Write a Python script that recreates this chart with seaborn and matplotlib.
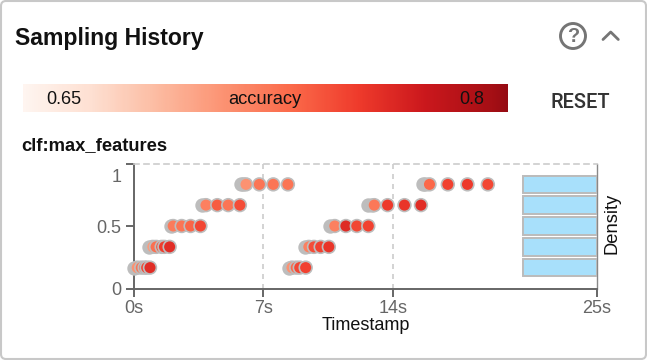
import numpy as np
import pandas as pd
import matplotlib
matplotlib.use("Agg")
import matplotlib.pyplot as plt
from matplotlib.colors import Normalize
from matplotlib.patches import FancyBboxPatch, Circle
from matplotlib.lines import Line2D
from matplotlib.transforms import Affine2D
import seaborn as sns

# Data
grey_time = [0.00, 0.84, 1.99, 3.67, 5.79, 5.90,
             8.40, 9.26, 10.57, 12.66, 12.85, 15.63, 15.72]
grey_feat = [0.167, 0.333, 0.5, 0.667, 0.833, 0.833,
             0.167, 0.333, 0.5, 0.667, 0.667, 0.833, 0.833]
sample_time = [0.19, 0.41, 0.59, 0.70, 0.88,
               1.03, 1.21, 1.51, 1.66, 1.94,
               2.13, 2.59, 3.07, 3.60,
               3.90, 4.51, 5.10, 5.73,
               6.06, 6.78, 7.53, 8.32,
               8.54, 8.77, 8.96, 9.28,
               9.45, 9.73, 10.09, 10.53,
               10.85, 11.45, 12.04, 12.66,
               12.98, 13.70, 14.61, 15.50,
               15.96, 16.95, 18.01, 19.11]
sample_feat = [0.167] * 5 + [0.333] * 5 + [0.5] * 4 + [0.667] * 4 + [0.833] * 4 + \
              [0.167] * 4 + [0.333] * 4 + [0.5] * 4 + [0.667] * 4 + [0.833] * 4
sample_acc = [0.705, 0.722, 0.735, 0.745, 0.760,
              0.700, 0.725, 0.738, 0.750, 0.760,
              0.718, 0.722, 0.730, 0.745,
              0.715, 0.735, 0.722, 0.742,
              0.705, 0.722, 0.722, 0.722,
              0.705, 0.728, 0.745, 0.748,
              0.715, 0.742, 0.748, 0.755,
              0.715, 0.762, 0.745, 0.748,
              0.720, 0.752, 0.755, 0.760,
              0.728, 0.748, 0.752, 0.745]
density_rows = [0.167, 0.333, 0.5, 0.667, 0.833]
density_vals = [1.0, 1.0, 1.0, 1.0, 1.0]
y_ticks = [0, 0.5, 1]
y_labels = ["0", "0.5", "1"]
x_ticks = [0, 7, 14, 25]
x_labels = ["0s", "7s", "14s", "25s"]
acc_min, acc_max = 0.635, 0.821

W, H = 647, 360
PT = 0.72
sns.set_theme(style="white")
plt.rcParams["font.family"] = ["Liberation Sans", "DejaVu Sans"]
fig = plt.figure(figsize=(W / 100, H / 100), dpi=100, facecolor="white")

# Pixel-space overlay for card furniture
bg = fig.add_axes([0, 0, 1, 1], zorder=0)
bg.set_xlim(0, W)
bg.set_ylim(H, 0)
bg.axis("off")
bg.add_patch(FancyBboxPatch((1, 1), W - 2, H - 2, boxstyle="round,pad=0,rounding_size=5",
                            fc="white", ec="#c8c8c8", lw=1.5))
bg.text(15, 38.5, "Sampling History", fontsize=23 * PT, fontweight="bold", color="#111111", va="center", ha="left")
bg.add_patch(Circle((573, 36), 12.5, fc="none", ec="#757575", lw=2.1))
bg.text(573, 36.5, "?", fontsize=20 * PT, fontweight="bold", color="#757575", ha="center", va="center")
bg.add_line(Line2D([603, 610.7, 618.3], [39.5, 32, 39.5], color="#757575", lw=2.0))

norm = Normalize(acc_min, acc_max)
grad = np.linspace(acc_min, 0.803, 256)[None, :]
bg.imshow(grad, cmap="Reds", norm=norm, extent=(23, 507.5, 112.5, 84.5), aspect="auto", zorder=1)
bg.set_xlim(0, W)
bg.set_ylim(H, 0)
bg.text(64, 99.5, "0.65", fontsize=18 * PT, color="#111111", ha="center", va="center", zorder=2)
bg.text(264.5, 99.5, "accuracy", fontsize=18.4 * PT, color="#111111", ha="center", va="center", zorder=2)
bg.text(471.5, 99.5, "0.8", fontsize=18 * PT, color="#111111", ha="center", va="center", zorder=2)
bg.text(580, 103, "RESET", fontsize=20 * PT, fontweight="medium", family="Roboto", color="#333333", ha="center", va="center")
bg.text(21.5, 146, "clf:max_features", fontsize=18.4 * PT, fontweight="bold", color="#111111", ha="left", va="center")

# Main plot
L, R, T, B = 133.7, 597.0, 163.5, 288.5
ax = fig.add_axes([L / W, 1 - B / H, (R - L) / W, (B - T) / H], zorder=2)
ax.patch.set_alpha(0)

hist = ax.twiny()
hist.patch.set_alpha(0)
sns.barplot(x=density_vals, y=density_rows, orient="y", native_scale=True, width=0.84,
            color="#a8e0fb", saturation=1, edgecolor="#bbbbbb", linewidth=1.4, ax=hist)
hist.set_xlim((R - L) / 74, 0)
hist.set_ylim(0, 1)
hist.set_xticks([])
hist.set_xlabel("")
hist.set_ylabel("")
for s in hist.spines.values():
    s.set_visible(False)

MS = 84
sns.scatterplot(x=grey_time, y=grey_feat, color="#bdbdbd", edgecolor="#bdbdbd", linewidth=1.2,
                s=MS, ax=ax, clip_on=False, legend=False, zorder=3)
df = pd.DataFrame({"t": sample_time, "f": sample_feat, "acc": sample_acc})
sns.scatterplot(data=df, x="t", y="f", hue="acc", hue_norm=norm, palette="Reds",
                edgecolor="#bdbdbd", linewidth=1.2, s=MS, ax=ax, clip_on=False, legend=False, zorder=4)

ax.set_xlim(0, 25)
ax.set_ylim(0, 1)
ax.set_xticks(x_ticks)
ax.set_xticklabels(x_labels)
ax.set_yticks(y_ticks)
ax.set_yticklabels(y_labels)
ax.tick_params(axis="both", which="major", length=6, width=1.4, color="#666666",
               labelcolor="#666666", labelsize=18 * PT, pad=3, left=True, bottom=True)
ax.tick_params(axis="x", pad=2)
top_label = ax.get_yticklabels()[2]
top_label.set_transform(top_label.get_transform() + Affine2D().translate(0, -11.5))
ax.xaxis.grid(False)
ax.yaxis.grid(False)
for xv in x_ticks[1:3]:
    ax.axvline(xv, color="#cccccc", lw=1.2, ls=(0, (3, 3)), zorder=1)
ax.spines["left"].set(color="#666666", lw=1.4)
ax.spines["bottom"].set(color="#666666", lw=1.4)
ax.spines["right"].set(color="#888888", lw=1.0, visible=True)
ax.spines["top"].set(color="#cccccc", lw=1.2, ls=(0, (3, 3)), visible=True)
ax.set_xlabel("")
ax.set_ylabel("")

bg.text(365.5, 326, "Timestamp", fontsize=18 * PT, color="#111111", ha="center", va="center")
bg.text(611.5, 223.5, "Density", fontsize=18.4 * PT, color="#111111", ha="center", va="center", rotation=90)

fig.savefig("out.png", dpi=100, facecolor="white")
